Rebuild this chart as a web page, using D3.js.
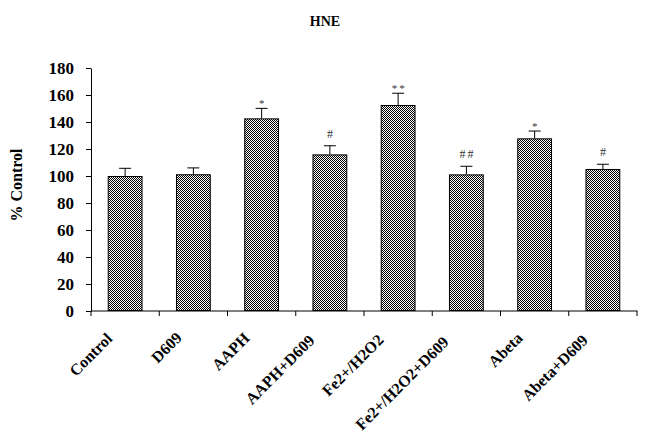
<!DOCTYPE html>
<html><head><meta charset="utf-8">
<script src="https://cdn.jsdelivr.net/npm/d3@7/dist/d3.min.js"></script>
<style>body{margin:0;background:#fff}svg{display:block}</style>
</head><body>
<svg id="c" width="650" height="438"></svg>
<script>
const categories = ["Control","D609","AAPH","AAPH+D609","Fe2+/H2O2","Fe2+/H2O2+D609","Abeta","Abeta+D609"];
const values = [100, 101.3, 142.7, 116, 152.6, 101.2, 127.9, 105.2];
const errors = [5.7, 4.7, 7.4, 6.4, 8.7, 6.0, 5.4, 3.5];
const marks = ["", "", "*", "#", "**", "##", "*", "#"];
const yTicks = [0,20,40,60,80,100,120,140,160,180];

const svg = d3.select("#c");
const m = {l:91, r:637, t:68, b:311};
const x = d3.scaleBand().domain(categories).range([m.l, m.r]).paddingInner(0.49).paddingOuter(0.245);
const y = d3.scaleLinear().domain([0,180]).range([m.b, m.t]);
const serif = "'Liberation Serif','Times New Roman','DejaVu Serif',serif";

const defs = svg.append("defs");
const pat = defs.append("pattern").attr("id","chk").attr("width",2).attr("height",2).attr("patternUnits","userSpaceOnUse");
pat.append("rect").attr("width",2).attr("height",2).attr("fill","#fff");
pat.append("rect").attr("x",0).attr("y",0).attr("width",1).attr("height",1).attr("fill","#000");
pat.append("rect").attr("x",1).attr("y",1).attr("width",1).attr("height",1).attr("fill","#000");

svg.append("text").attr("x",325).attr("y",26).attr("text-anchor","middle")
  .style("font-family",serif).style("font-weight","bold").style("font-size","14px").text("HNE");

// y axis
const ya = svg.append("g").attr("transform",`translate(${m.l},0)`)
  .call(d3.axisLeft(y).tickValues(yTicks).tickSize(5).tickPadding(12).tickSizeOuter(0));
ya.select(".domain").attr("stroke","#000");
ya.selectAll("text").style("font-family",serif).style("font-weight","bold").style("font-size","17px").attr("fill","#000");

// x axis
const bw = (m.r - m.l)/categories.length;
const xa = svg.append("g").attr("transform",`translate(0,${m.b})`);
xa.append("line").attr("x1",m.l).attr("x2",m.r+0.5).attr("stroke","#000");
const bounds = d3.range(categories.length+1).map(i => m.l + i*bw);
xa.selectAll("line.tk").data(bounds).join("line").attr("class","tk")
  .attr("x1",d=>d).attr("x2",d=>d).attr("y1",0).attr("y2",5).attr("stroke","#000");
const xl = xa.selectAll("text").data(categories).join("text")
  .attr("text-anchor","end")
  .style("font-family",serif).style("font-weight","bold").style("font-size","16px").text(d=>d);
xl.each(function(d){
  const L = this.getComputedTextLength();
  const cx = x(d) + x.bandwidth()/2 - 8 - 0.07*L;
  const cy = 26 + 0.05*L;
  d3.select(this).attr("transform",`translate(${cx},${cy}) rotate(-45)`);
});

svg.append("text").attr("transform",`translate(22,185) rotate(-90)`).attr("text-anchor","middle")
  .style("font-family",serif).style("font-weight","bold").style("font-size","16px").text("% Control");

// bars
const g = svg.append("g");
categories.forEach((c,i) => {
  const cx = x(c) + x.bandwidth()/2;
  const top = y(values[i]+errors[i]);
  g.append("line").attr("x1",cx).attr("x2",cx).attr("y1",y(values[i])).attr("y2",top).attr("stroke","#000");
  g.append("line").attr("x1",cx-6).attr("x2",cx+6).attr("y1",top).attr("y2",top).attr("stroke","#000");
  g.append("rect").attr("x",x(c)+0.5).attr("y",y(values[i])+0.5).attr("width",x.bandwidth()-1).attr("height",y(0)-y(values[i])-1)
    .attr("fill","url(#chk)").attr("stroke","#000").attr("stroke-width",1);
  if (marks[i]) {
    const isStar = marks[i][0] === "*";
    const n = marks[i].length;
    g.append("text").attr("x",cx + (n>1?1:0)).attr("y", isStar ? top - 1 : top - 8).attr("text-anchor","middle")
      .style("font-family",serif).style("font-size", isStar ? "11px" : "12px").attr("fill","#333")
      .attr("letter-spacing", n>1 ? "2px" : "0")
      .text(marks[i]);
  }
});
</script>
</body></html>
